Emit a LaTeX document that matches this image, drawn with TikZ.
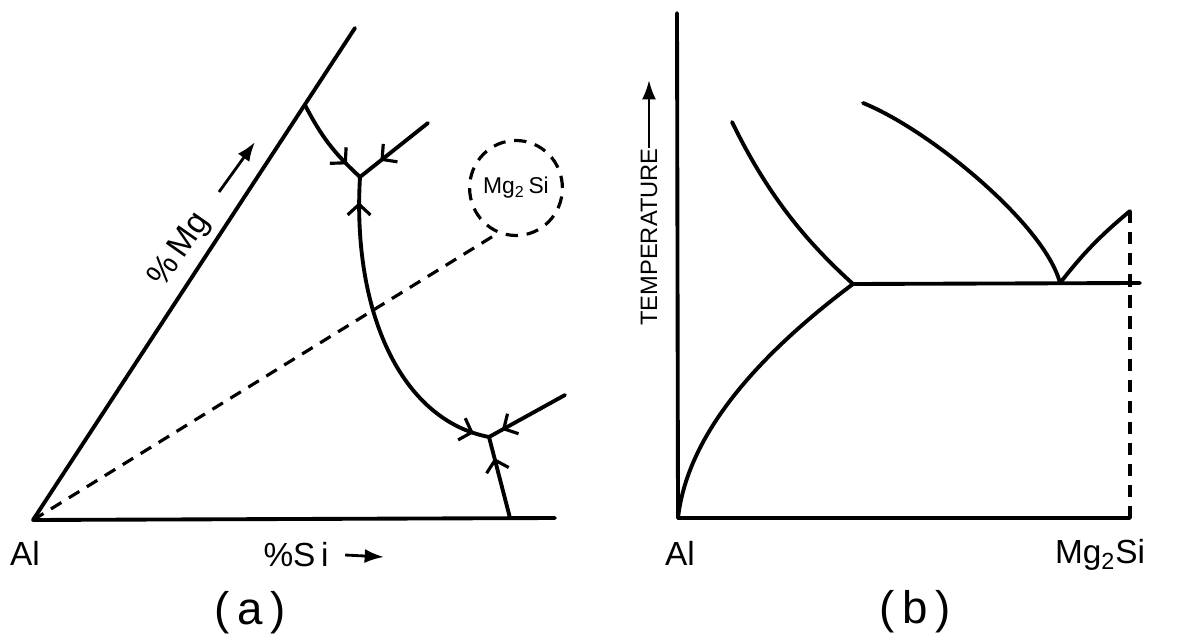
\documentclass[tikz,border=0pt]{standalone}
\usepackage{fontspec}
\setmainfont{Liberation Sans}
\usetikzlibrary{arrows.meta, decorations.markings, shapes.geometric}

\begin{document}
\begin{tikzpicture}[
  x=0.02cm, y=-0.02cm,
  every node/.style={font=\fontsize{19}{21}\selectfont},
  >={Straight Barb[length=6pt, width=13pt, line width=1.8pt]},
  line/.style={line width=2.2pt, line cap=round, line join=round},
  dashline/.style={line width=1.8pt, dash pattern=on 7pt off 5pt},
  flow/.style={postaction={decorate}, decoration={markings,
    mark=at position #1 with {\arrow{>}}}},
  flowboth/.style 2 args={postaction={decorate}, decoration={markings,
    mark=at position #1 with {\arrowreversed{>}},
    mark=at position #2 with {\arrow{>}}}},
  pointer/.style={-{Latex[length=11pt, width=8pt]}, line width=1.6pt},
  caption/.style={font=\fontsize{26}{30}\selectfont}
]
\useasboundingbox (0,0) rectangle (1179,641);

% ---- PANEL (a) ----
\coordinate (al) at (33,520);
\coordinate (siend) at (555,518);
\coordinate (mgend) at (355,28);
\coordinate (pa) at (305,105);
\coordinate (ua) at (360,177);
\coordinate (ub) at (428,123);
\coordinate (la) at (489,437);
\coordinate (lb) at (565,395);
\coordinate (lc) at (510,518);

\draw[line] (mgend) -- (al) -- (siend);
\draw[line, flow=0.8] (pa) to[bend right=10] (ua);
\draw[line, flow=0.7] (ub) -- (ua);
\draw[line, flowboth={0.08}{0.95}] (ua) .. controls (352,310) and (400,420) .. (la);
\draw[line, flow=0.83] (lb) -- (la);
\draw[line, flow=0.74] (lc) -- (la);

\node[draw, dashline, ellipse, minimum width=1.3cm, minimum height=1.9cm, inner sep=0pt,
  font=\fontsize{13}{15}\selectfont] (mgsi) at (516,188) {Mg\textsubscript{2}\,Si};
\draw[dashline] (al) -- (mgsi.-112);

\node (alA) at (25,553) {Al};
\node (si) at (296,555) {\%S\,i};
\coordinate (siarr) at (384,557);
\draw[pointer] ([xshift=6pt]si.east) -- (siarr);
\node[rotate=55] (mg) at (180,250) {\%\,Mg};
\coordinate (mgarr1) at (219,192);
\coordinate (mgarr2) at (255,142);
\draw[pointer] (mgarr1) -- (mgarr2);
\node[caption] (capa) at (250,613) {(\,a\,)};

% ---- PANEL (b) ----
\coordinate (o) at (678,518);
\coordinate (ytop) at (677,13);
\coordinate (xend) at (1130,518);
\coordinate (e) at (853,284);
\coordinate (eend) at (1140,283);
\coordinate (m) at (1060,283);
\coordinate (dtop) at (1130,211);
\coordinate (liql) at (732,122);
\coordinate (liqr) at (863,103);

\draw[line] (ytop) -- (o) -- (xend);
\draw[dashline] (dtop) -- (xend);
\draw[line] (e) -- (eend);
\draw[line] (liql) .. controls (770,200) and (810,245) .. (e);
\draw[line] (o) .. controls (688,430) and (765,350) .. (e);
\draw[line] (liqr) .. controls (930,130) and (1045,225) .. (m);
\draw[line] (m) to[bend left=6] (dtop);

\node[rotate=90, font=\fontsize{13.5}{15}\selectfont] (temp) at (649,237) {TEMPERATURE};
\coordinate (tarr1) at (649,148);
\coordinate (tarr2) at (649,80);
\draw[pointer] (tarr1) -- (tarr2);

\node (alB) at (680,553) {Al};
\node (mg2si) at (1100,555) {Mg\textsubscript{2}Si};
\node[caption] (capb) at (915,612) {(\,b\,)};
\end{tikzpicture}
\end{document}
